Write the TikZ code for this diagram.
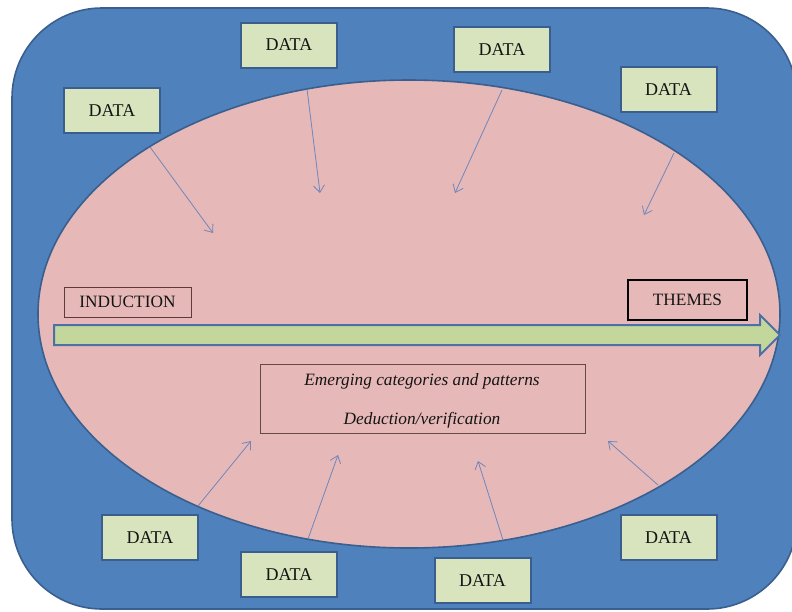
\documentclass[tikz,border=0pt]{standalone}
\usepackage{fontspec}
\setmainfont{Liberation Serif}
\usetikzlibrary{arrows.meta}
\definecolor{frameblue}{HTML}{4F81BD}
\definecolor{edgeblue}{HTML}{3A5F8E}
\definecolor{fieldpink}{HTML}{E6B9B8}
\definecolor{datagreen}{HTML}{D7E4BD}
\definecolor{flowgreen}{HTML}{C3D69B}
\definecolor{flowedge}{HTML}{4D70A6}
\definecolor{linkblue}{HTML}{7186BA}
\definecolor{labelbrown}{HTML}{5E3A3A}
\definecolor{inktext}{HTML}{141414}
\tikzset{
  txt/.style={font=\fontsize{17.3}{20}\selectfont, text=inktext},
  databox/.style={font=\fontsize{18}{21}\selectfont, text=inktext,
    draw=edgeblue, line width=2pt, fill=datagreen,
    minimum width=96pt, minimum height=45pt, inner sep=0pt},
  labelbox/.style={txt, draw=labelbrown, line width=0.8pt,
    minimum width=127pt, minimum height=30pt, inner sep=0pt},
  themebox/.style={txt, draw=black, line width=2pt,
    minimum width=119pt, minimum height=40pt, inner sep=0pt},
  notebox/.style={draw=labelbrown!80!gray, line width=0.8pt,
    minimum width=325pt, minimum height=69pt, inner sep=0pt},
  notetext/.style={font=\fontsize{17.3}{20}\selectfont\itshape, text=inktext, inner sep=0pt},
  feed/.style={draw=linkblue, line width=0.8pt,
    -{Straight Barb[length=7pt,width=11pt,line width=0.8pt]}}
}
\begin{document}
\begin{tikzpicture}[x=1pt,y=-1pt]
\useasboundingbox (0,0) rectangle (792,611);

% outer frame
\draw[fill=frameblue, draw=edgeblue, line width=1.6pt, rounded corners=90pt]
  (12,8) rectangle (797,609);

% inner field
\draw[fill=fieldpink, draw=edgeblue, line width=1.6pt]
  (409,314) ellipse [x radius=371, y radius=234];

% main horizontal arrow
\draw[fill=flowgreen, draw=flowedge, line width=2pt, line join=miter]
  (54,325) -- (760,325) -- (760,315) -- (780,335) -- (760,355)
  -- (760,345) -- (54,345) -- cycle;

% labels
\node[labelbox] (induction) at (127.5,302) {INDUCTION};
\node[themebox] (themes) at (687.5,300) {THEMES};
\node[notebox] (notes) at (422.5,398.5) {};
\node[notetext] (emerging) at (422,381) {Emerging categories and patterns};
\node[notetext] (deduction) at (422,420) {Deduction/verification};

% data boxes
\node[databox] (d1) at (112,110.5) {DATA};
\node[databox] (d2) at (289,45) {DATA};
\node[databox] (d3) at (502,49.5) {DATA};
\node[databox] (d4) at (668.5,89.5) {DATA};
\node[databox] (d5) at (150,537.5) {DATA};
\node[databox] (d6) at (289,574.5) {DATA};
\node[databox] (d7) at (482.5,580.5) {DATA};
\node[databox] (d8) at (668.5,537.5) {DATA};

% feed points on the field boundary and their targets
\coordinate (s1) at (150,147);
\coordinate (t1) at (213,233);
\coordinate (s2) at (307,89);
\coordinate (t2) at (320,193);
\coordinate (s3) at (502,90);
\coordinate (t3) at (455,193);
\coordinate (s4) at (674,153);
\coordinate (t4) at (644,215);
\coordinate (s5) at (198,506);
\coordinate (t5) at (251,441);
\coordinate (s6) at (308,539);
\coordinate (t6) at (338,455);
\coordinate (s7) at (503,540);
\coordinate (t7) at (478,461);
\coordinate (s8) at (658,485);
\coordinate (t8) at (608,441);

\foreach \i in {1,...,8} {
  \draw[feed] (s\i) -- (t\i);
}
\end{tikzpicture}
\end{document}
